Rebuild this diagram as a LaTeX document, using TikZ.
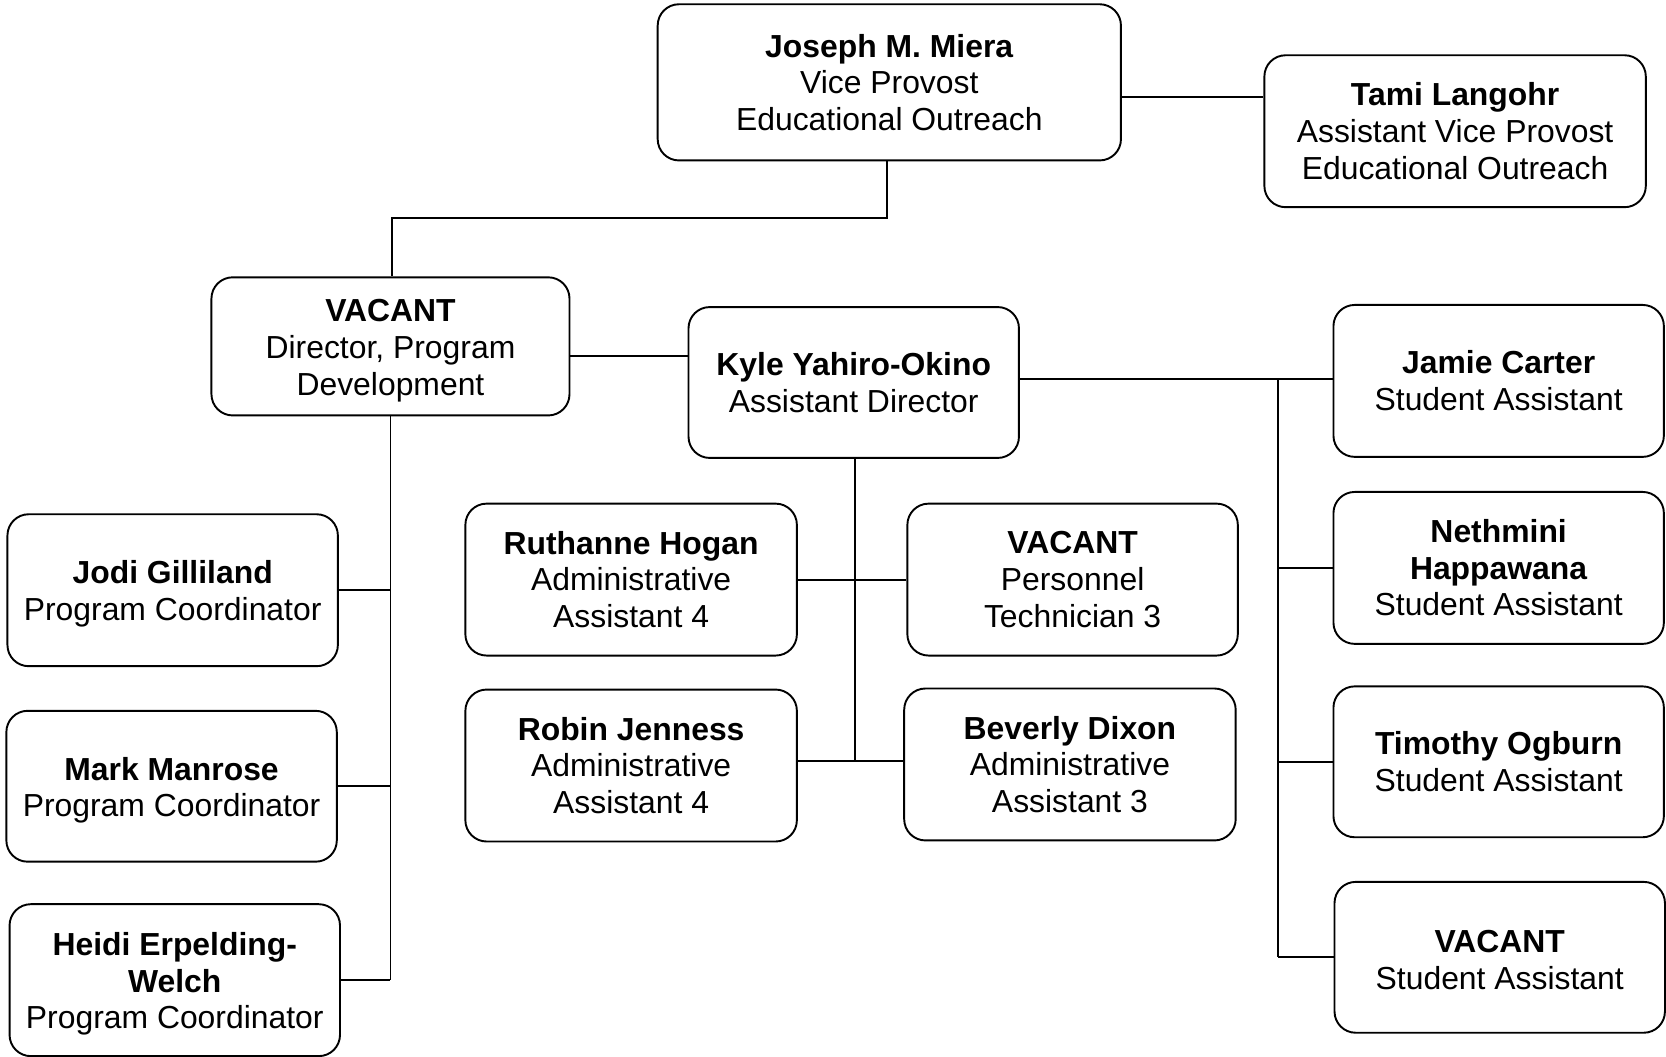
\documentclass[tikz,border=0pt]{standalone}
\usepackage{fontspec}
\setmainfont{Liberation Sans}
\newcommand\fl[1]{\rule{0pt}{29pt}\textbf{#1}}
\newcommand\fs[1]{\rule{0pt}{26pt}\textbf{#1}}
\begin{document}
\begin{tikzpicture}[x=1pt,y=-1pt,
  box/.style={draw, line width=1.8pt, rounded corners=20pt, align=center, inner sep=0pt, font=\fontsize{30}{34.5}\selectfont},
  conn/.style={line width=1.8pt}]
\useasboundingbox (0,0) rectangle (1568,994.8);
\node[box, minimum width=436pt, minimum height=147pt] (jm) at (837,77.5) {\textbf{Joseph M. Miera}\\Vice Provost\\Educational Outreach};
\node[box, minimum width=359pt, minimum height=143pt] (tl) at (1369.5,123.5) {\textbf{Tami Langohr}\\Assistant Vice Provost\\Educational Outreach};
\node[box, minimum width=337pt, minimum height=130pt] (dir) at (367.5,326) {\fl{VACANT}\\Director, Program\\Development};
\node[box, minimum width=311pt, minimum height=142pt] (ky) at (803.5,360) {\textbf{Kyle Yahiro-Okino}\\Assistant Director};
\node[box, minimum width=311pt, minimum height=143pt] (ja) at (1410.5,358.5) {\textbf{Jamie Carter}\\Student Assistant};
\node[box, minimum width=311pt, minimum height=143pt] (ne) at (1410.5,534.5) {\textbf{Nethmini}\\\textbf{Happawana}\\Student Assistant};
\node[box, minimum width=311pt, minimum height=142pt] (ti) at (1410.5,717) {\textbf{Timothy Ogburn}\\Student Assistant};
\node[box, minimum width=311pt, minimum height=142pt] (vs) at (1411.5,901) {\fs{VACANT}\\Student Assistant};
\node[box, minimum width=312pt, minimum height=143pt] (ru) at (594,545.5) {\textbf{Ruthanne Hogan}\\Administrative\\Assistant 4};
\node[box, minimum width=311pt, minimum height=143pt] (pe) at (1009.5,545.5) {\textbf{VACANT}\\Personnel\\Technician 3};
\node[box, minimum width=312pt, minimum height=143pt] (ro) at (594,720.5) {\textbf{Robin Jenness}\\Administrative\\Assistant 4};
\node[box, minimum width=312pt, minimum height=143pt] (bd) at (1007,719.5) {\textbf{Beverly Dixon}\\Administrative\\Assistant 3};
\node[box, minimum width=311pt, minimum height=143pt] (jo) at (162.5,555.5) {\fl{Jodi Gilliland}\\Program Coordinator};
\node[box, minimum width=311pt, minimum height=142pt] (ma) at (161.5,740) {\fl{Mark Manrose}\\Program Coordinator};
\node[box, minimum width=311pt, minimum height=143pt] (he) at (164.5,922.5) {\fl{Heidi Erpelding-}\\\textbf{Welch}\\Program Coordinator};
% connectors
\coordinate (jt) at (0,91);
\coordinate (dk) at (0,335);
\coordinate (sb) at (1203,357);
\coordinate (kb) at (805,716);
\draw[conn] (jm.east |- jt) -- (tl.west |- jt);
\draw[conn] (jm.south -| 835,0) -- ++(0,53) -| (dir.north -| 369,0);
\draw[conn] (dir.east |- dk) -- (ky.west |- dk);
\draw[conn] (dir.south) -- (dir.south |- he.east);
\draw[conn] (jo.east) -- (jo.east -| dir.south);
\draw[conn] (ma.east) -- (ma.east -| dir.south);
\draw[conn] (he.east) -- (he.east -| dir.south);
\draw[conn] (ky.east |- sb) -- (ja.west |- sb);
\draw[conn] (sb) -- (sb |- vs.west);
\draw[conn] (sb |- ne.west) -- (ne.west);
\draw[conn] (sb |- ti.west) -- (ti.west);
\draw[conn] (sb |- vs.west) -- (vs.west);
\draw[conn] (ky.south -| kb) -- (kb);
\draw[conn] (ru.east) -- (pe.west);
\draw[conn] (ro.east |- kb) -- (bd.west |- kb);
\end{tikzpicture}
\end{document}
